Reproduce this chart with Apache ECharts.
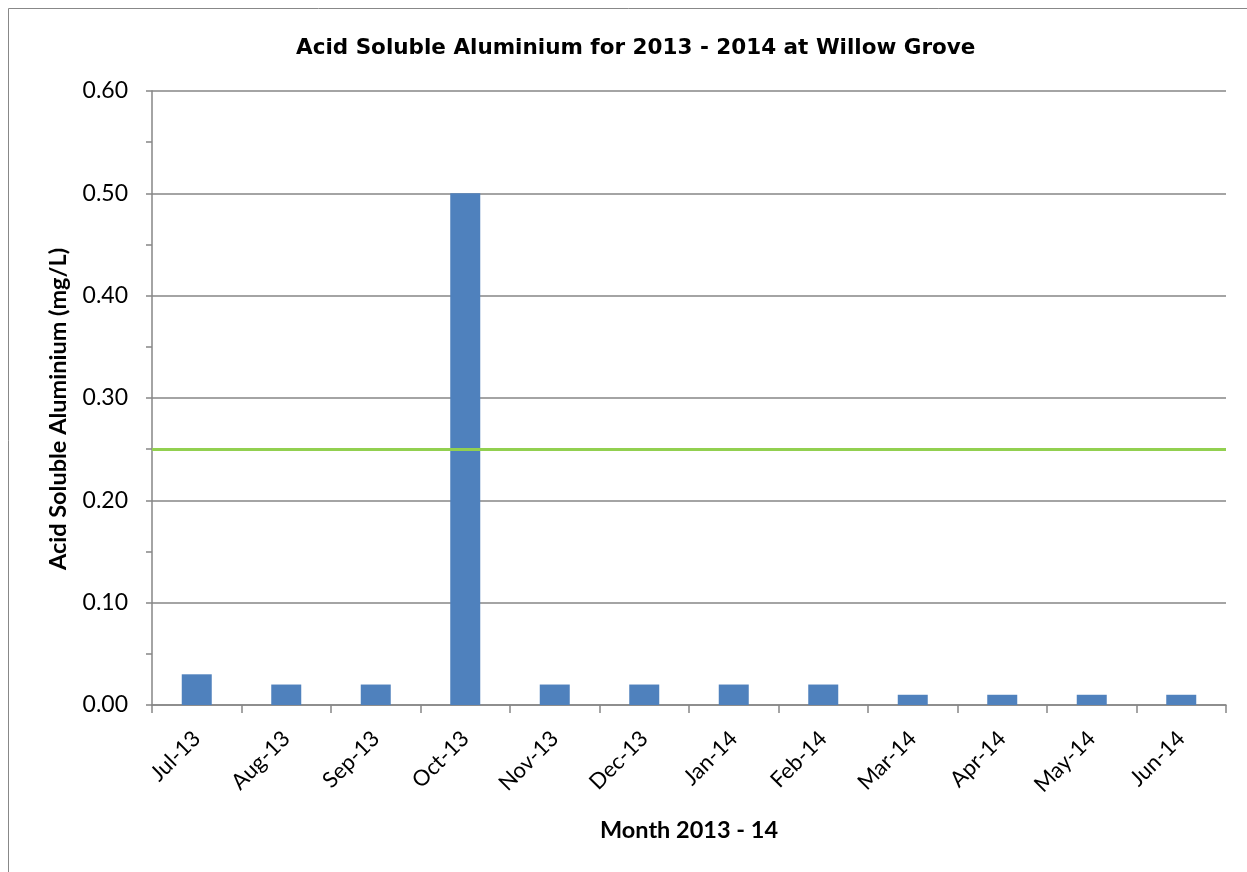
<!DOCTYPE html>
<html>
<head>
<meta charset="utf-8">
<script src="https://cdn.jsdelivr.net/npm/echarts@6/dist/echarts.min.js"></script>
<style>
html,body{margin:0;padding:0;background:#fff;}
#chart{width:1247px;height:872px;}
</style>
</head>
<body>
<div id="chart"></div>
<script>
const months = ['Jul-13','Aug-13','Sep-13','Oct-13','Nov-13','Dec-13','Jan-14','Feb-14','Mar-14','Apr-14','May-14','Jun-14'];
const aluminium = [0.03,0.02,0.02,0.50,0.02,0.02,0.02,0.02,0.01,0.01,0.01,0.01];
const guideline = 0.25;
const yTicks = {min:0, max:0.6, interval:0.1};

const chart = echarts.init(document.getElementById('chart'), null, {renderer:'canvas'});
chart.setOption({
  animation:false,
  backgroundColor:'#fff',
  graphic:[{type:'rect',shape:{x:8.5,y:8.5,width:1260,height:900},style:{fill:'none',stroke:'#888',lineWidth:1}}],
  title:{
    text:'Acid Soluble Aluminium for 2013 - 2014 at Willow Grove',
    left:291, top:32,
    textStyle:{fontFamily:'DejaVu Sans',fontWeight:'bold',fontSize:21.5,color:'#000'}
  },
  grid:{left:152,right:21,top:91,bottom:167},
  xAxis:{
    type:'category',data:months,
    name:'Month 2013 - 14',nameLocation:'middle',nameGap:113,
    nameTextStyle:{fontFamily:'Lato',fontWeight:'bold',fontSize:23.5,color:'#000'},
    axisLine:{lineStyle:{color:'#868686',width:1.5}},
    axisTick:{show:true,length:8,lineStyle:{color:'#868686',width:1.5}},
    axisLabel:{rotate:45,fontFamily:'Lato',fontSize:22,color:'#000',margin:30,interval:0}
  },
  yAxis:{
    type:'value',min:yTicks.min,max:yTicks.max,interval:yTicks.interval,
    name:'Acid Soluble Aluminium (mg/L)',nameLocation:'middle',nameGap:82,
    nameTextStyle:{fontFamily:'Lato',fontWeight:'bold',fontSize:23.5,color:'#000',padding:[0,22,0,0]},
    axisLine:{show:true,lineStyle:{color:'#868686',width:1.5}},
    axisTick:{show:true,length:6,lineStyle:{color:'#868686',width:1.5}},
    minorTick:{show:true,splitNumber:2,length:6,lineStyle:{color:'#868686',width:1.5}},
    splitLine:{show:true,lineStyle:{color:'#868686',width:1.5}},
    axisLabel:{fontFamily:'Lato',fontSize:23,color:'#000',margin:24,formatter:v=>v.toFixed(2)}
  },
  series:[{
    type:'bar',data:aluminium,barWidth:30,
    itemStyle:{color:'#4F81BD'},
    markLine:{
      silent:true,symbol:'none',label:{show:false},
      lineStyle:{color:'#92D050',width:3,type:'solid'},
      data:[{yAxis:guideline}]
    }
  }]
});
</script>
</body>
</html>
